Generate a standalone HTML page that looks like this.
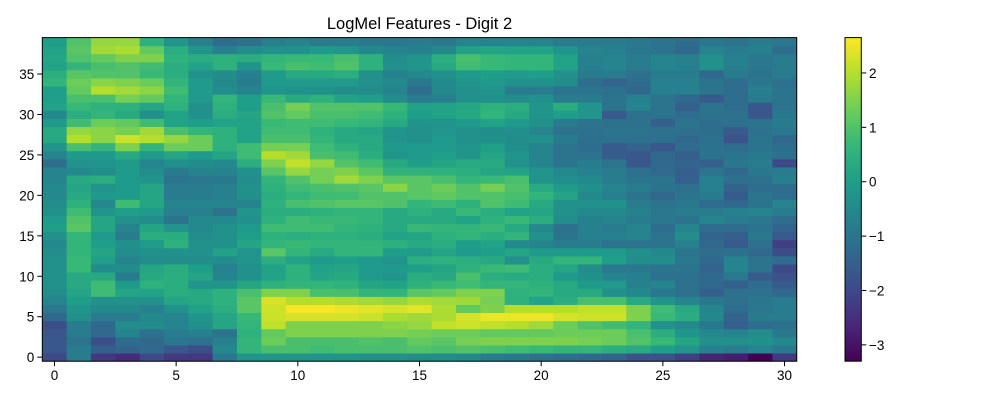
<!DOCTYPE html>
<html><head><meta charset="utf-8"><style>
body{margin:0;background:#fff;}
svg{display:block;font-family:"Liberation Sans","DejaVu Sans",sans-serif;}
</style></head><body>
<svg id="chart" width="1000" height="400" viewBox="0 0 1000 400" xmlns="http://www.w3.org/2000/svg">
<rect width="1000" height="400" fill="#fff"/>
<text x="419.5" y="29" text-anchor="middle" font-size="16.5" fill="#000">LogMel Features - Digit 2</text>
<g id="cells"></g>
<rect x="42.3" y="37.6" width="754.4" height="323.6" fill="none" stroke="#000" stroke-width="1"/>
<g id="xaxis"></g>
<g id="yaxis"></g>
<defs><linearGradient id="cbgrad" x1="0" y1="1" x2="0" y2="0"></linearGradient></defs>
<rect x="845" y="37.6" width="16.3" height="323.6" fill="url(#cbgrad)" stroke="#000" stroke-width="1"/>
<g id="cbaxis"></g>
</svg>
<script>
const xTicks = [0,5,10,15,20,25,30];
const yTicks = [0,5,10,15,20,25,30,35];
const cbTicks = [-3,-2,-1,0,1,2];
const vmin = -3.3, vmax = 2.65;
// rows 0 (bottom) .. 39 (top), 31 frames each
const z = [
[-2.0,-0.8,-2.3,-2.6,-2.0,-2.3,-2.3,-0.9,-0.2,-0.2,-0.2,-0.2,-0.2,-0.3,-0.3,-0.4,-0.4,-0.5,-0.8,-0.9,-1.1,-1.2,-1.3,-1.4,-1.8,-1.8,-2.2,-2.7,-2.8,-3.3,-2.3],
[-1.7,-0.8,-1.5,-1.4,-1.3,-1.7,-1.9,-0.5,0.6,0.9,0.9,0.8,0.9,0.9,0.9,1.0,0.9,1.0,0.9,0.8,0.7,0.6,0.6,0.4,0.3,0.0,-0.2,-0.7,-0.8,-0.6,-0.9],
[-1.7,-1.0,-1.9,-1.2,-1.3,-0.9,-1.1,-0.7,0.6,1.3,0.9,0.9,0.9,1.0,0.9,1.2,1.1,1.4,1.5,1.5,1.5,1.5,1.4,1.3,1.0,0.7,0.2,-0.3,-0.3,-0.3,-0.5],
[-1.7,-0.8,-1.3,-0.6,-1.1,-0.8,-0.7,-1.0,0.5,1.2,1.5,1.5,1.5,1.5,1.5,1.4,1.3,1.3,1.2,1.2,1.2,1.3,1.3,1.3,0.9,0.4,-0.2,-0.5,-0.6,-0.4,-0.9],
[-1.9,-0.8,-1.3,-0.4,-0.4,-0.6,-0.3,0.2,0.6,2.1,1.5,1.5,1.5,1.5,1.6,1.7,2.1,2.2,2.1,2.0,1.8,1.3,1.0,0.8,0.6,-0.3,-0.5,-0.9,-1.5,-1.2,-1.1],
[-1.3,-0.3,-0.8,-0.8,-0.5,-0.6,-0.2,0.2,0.7,2.2,2.3,2.3,2.3,2.2,1.9,1.8,1.9,2.3,2.5,2.5,2.5,2.3,2.2,2.2,1.5,0.7,0.4,-0.5,-1.4,-0.8,-0.8],
[-0.9,-0.2,-0.5,-0.5,-0.7,-0.3,0.1,0.4,1.1,2.2,2.6,2.6,2.5,2.4,2.3,2.4,1.9,1.2,1.5,2.0,2.0,2.0,2.1,2.1,1.5,0.8,0.3,-0.6,-1.2,-0.9,-0.8],
[-0.6,0.0,-0.3,-0.3,-0.3,0.2,0.3,0.5,1.1,2.3,2.0,2.0,1.9,1.8,1.7,1.9,1.8,1.8,1.4,0.5,0.1,0.4,0.9,0.9,0.3,-0.2,-0.6,-0.9,-1.1,-0.9,-0.8],
[-0.4,0.2,0.8,0.2,0.1,0.4,0.3,0.5,0.9,1.5,1.5,0.9,0.9,0.6,0.6,1.1,1.2,1.5,1.5,0.5,0.6,0.3,0.3,-0.3,-0.5,-0.9,-1.1,-1.5,-1.1,-1.1,-1.3],
[-0.3,0.3,0.8,-0.1,0.5,0.4,-0.2,-0.2,0.2,0.5,0.6,0.6,0.5,0.2,0.1,0.5,0.7,0.8,0.6,0.6,0.5,0.3,-0.1,-0.1,-0.7,-0.6,-1.1,-1.3,-1.5,-1.2,-1.6],
[-0.3,0.3,0.3,-0.8,0.3,0.4,0.2,-0.6,-0.3,0.1,0.5,0.2,0.3,-0.1,-0.2,0.4,0.3,0.9,0.4,0.3,0.4,-0.1,-0.3,-0.6,-0.7,-1.1,-1.1,-1.3,-0.9,-1.6,-1.8],
[-0.3,0.7,-0.4,-0.4,0.2,0.4,0.0,-0.7,-0.3,0.1,0.5,0.1,0.2,-0.1,-0.1,0.0,0.2,0.5,0.7,0.8,0.4,0.2,-0.4,-0.9,-0.9,-1.0,-1.0,-1.4,-0.6,-1.0,-2.0],
[-0.3,0.7,0.0,-0.6,-0.4,-0.4,-0.4,-0.4,-0.2,0.4,0.1,-0.1,0.0,-0.1,-0.2,0.4,0.5,0.4,0.3,-0.3,0.3,0.6,0.6,0.0,-0.4,-0.4,-0.9,-1.3,-0.6,-1.0,-1.2],
[-0.4,0.6,0.2,-0.4,-0.3,-0.3,-0.3,0.1,-0.2,1.1,0.6,0.3,0.6,0.6,0.0,-0.1,0.2,-0.1,0.0,0.2,-0.1,-0.1,-0.1,-0.1,-0.3,-0.5,-1.0,-1.2,-1.1,-1.3,-1.9],
[-0.5,0.6,0.0,-0.3,-0.1,0.5,-0.3,-0.3,0.2,0.6,0.7,0.6,0.6,0.6,0.5,0.3,0.4,0.0,0.1,-0.5,-0.6,-0.8,-0.8,-1.0,-1.0,-1.0,-0.7,-1.3,-1.6,-1.1,-2.2],
[-0.3,0.6,-0.1,-0.8,0.4,0.4,-0.4,-0.3,0.0,0.5,0.4,0.5,0.5,0.4,0.1,0.2,0.5,0.6,0.4,0.6,-0.3,-1.0,-0.7,-0.7,-0.6,-1.0,-0.4,-1.4,-1.5,-0.9,-1.6],
[0.0,1.1,0.2,-0.6,0.2,-0.2,-0.5,-0.3,-0.1,0.8,0.8,0.8,0.6,0.5,0.3,0.7,0.6,0.6,0.7,0.3,-0.5,-1.1,-0.7,-0.8,-0.6,-1.2,-0.6,-1.2,-1.2,-1.0,-1.4],
[-0.1,1.0,0.2,-0.3,-0.4,-1.0,-0.5,-0.5,-0.3,0.5,0.8,0.7,0.7,0.6,0.3,0.3,0.3,0.1,0.5,0.7,0.4,-0.4,-0.7,-0.6,-0.8,-0.9,-1.0,-0.6,-0.8,-0.9,-1.2],
[-0.3,0.8,-0.2,0.0,-0.1,-0.7,-0.7,-1.0,-0.2,0.4,0.4,0.5,0.6,0.6,0.3,0.5,0.3,0.7,0.4,0.1,0.2,-0.3,-0.5,-0.5,-0.7,-0.9,-0.8,-0.8,-0.7,-0.6,-0.8],
[-0.4,0.5,-0.5,0.8,0.2,-0.6,-0.6,-0.6,-0.6,0.5,0.9,1.0,1.1,1.1,1.0,0.6,0.8,0.5,1.0,0.8,0.3,-0.3,-0.3,-0.3,-0.8,-1.0,-0.9,-1.2,-1.3,-1.0,-0.6],
[-0.5,0.3,-0.1,-0.1,0.2,-0.8,-0.8,-0.7,-0.3,0.4,0.6,0.8,0.8,1.0,1.0,1.1,1.2,1.0,1.0,0.9,0.6,0.2,-0.5,-0.7,-1.0,-1.3,-1.0,-0.8,-1.6,-1.0,-1.2],
[-0.5,0.2,-0.2,-0.1,0.2,-0.8,-0.8,-0.7,-0.3,0.5,0.8,0.9,1.0,1.1,1.6,1.1,1.3,1.0,1.4,1.0,0.3,-0.1,-0.3,-0.6,-0.8,-1.0,-1.1,-0.7,-1.4,-1.2,-1.2],
[-0.6,0.3,0.4,-0.1,-0.2,-1.0,-0.9,-0.9,-0.4,0.6,1.0,1.4,1.8,1.5,1.1,1.1,0.9,0.6,0.7,0.9,-0.2,-0.4,-0.5,-0.8,-1.0,-1.0,-1.5,-0.7,-1.1,-1.1,-0.7],
[-0.6,-0.5,-0.4,-0.1,-0.4,-0.8,-0.6,-0.6,-0.3,1.1,1.7,1.4,1.5,1.1,0.5,0.5,0.5,0.4,0.2,0.1,-0.2,-0.5,-0.7,-0.8,-1.1,-1.3,-1.5,-1.0,-1.3,-0.9,-0.8],
[-1.2,-0.2,-0.2,-0.1,-0.6,-0.3,-0.4,-0.5,0.4,1.5,2.1,1.7,1.0,0.8,0.3,0.0,0.2,0.3,0.3,-0.3,-0.6,-1.0,-0.8,-1.0,-1.7,-1.3,-1.4,-1.5,-0.9,-0.8,-2.0],
[-0.6,-0.1,-0.1,0.3,-0.1,0.2,-0.1,0.2,0.8,2.0,1.8,0.9,0.8,0.4,-0.2,-0.1,0.0,-0.2,0.2,-0.2,-0.6,-1.0,-1.1,-1.6,-1.7,-1.3,-1.5,-1.0,-1.0,-0.9,-1.1],
[-0.2,0.9,0.6,1.5,0.6,1.3,1.3,0.5,0.8,1.4,1.4,0.8,0.5,0.3,-0.1,-0.1,-0.1,-0.2,0.0,-0.4,-0.6,-1.0,-1.2,-1.6,-1.4,-1.7,-1.2,-1.1,-1.2,-1.0,-1.2],
[0.3,2.0,1.6,2.2,2.0,1.7,1.3,0.5,0.1,0.9,0.9,0.6,0.3,0.3,-0.2,-0.3,-0.1,-0.3,-0.3,-0.4,-0.3,-0.8,-1.1,-1.1,-1.1,-1.1,-1.3,-1.1,-1.8,-1.0,-1.3],
[0.3,1.7,1.6,1.4,1.8,0.9,0.6,0.5,0.1,0.8,0.8,0.5,0.3,0.2,-0.2,-0.3,-0.2,-0.3,-0.4,-0.3,-0.6,-1.0,-1.1,-1.0,-1.0,-1.1,-1.1,-1.2,-1.6,-1.1,-0.9],
[-0.1,0.8,1.3,1.2,0.8,0.1,0.0,0.1,0.1,0.7,0.8,0.8,0.7,0.6,0.3,-0.2,-0.2,-0.1,0.1,-0.1,-0.3,-0.8,-1.0,-1.1,-1.1,-1.5,-1.0,-1.2,-1.1,-1.0,-0.8],
[-0.5,0.4,0.6,0.3,-0.3,0.1,-0.3,0.4,0.2,1.0,1.2,0.9,0.9,0.8,0.5,0.0,0.1,0.3,0.6,0.3,-0.2,0.0,-0.2,-1.6,-1.1,-1.0,-1.2,-1.0,-1.1,-1.7,-0.9],
[0.1,0.7,0.5,0.5,0.2,0.5,-0.3,0.5,0.0,0.9,1.4,1.0,1.0,1.0,0.7,0.1,0.1,0.2,0.5,0.4,-0.2,0.4,-0.2,-1.0,-0.6,-1.0,-1.5,-1.0,-1.2,-1.7,-1.0],
[0.0,0.9,0.9,1.4,1.2,0.6,-0.1,0.6,0.0,0.7,0.3,0.5,0.1,0.0,-0.4,-0.8,-0.7,-0.3,-0.3,-0.4,-0.3,-0.8,-0.8,-1.0,-0.7,-1.0,-1.3,-1.6,-1.2,-0.8,-1.0],
[0.0,1.2,2.0,1.8,1.6,0.8,-0.1,-0.4,-0.6,-0.2,-0.3,-0.3,-0.4,-0.4,-0.6,-1.2,-0.5,-0.3,-0.2,-0.8,-0.8,-1.0,-1.0,-1.1,-1.3,-0.7,-0.7,-1.0,-1.2,-0.7,-1.0],
[0.6,1.3,1.6,1.5,1.3,0.6,-0.1,-0.5,-0.8,-0.1,-0.1,-0.1,-0.1,-0.3,-0.5,-0.9,-0.5,-0.2,-0.1,-0.3,-0.3,-0.4,-1.2,-1.4,-1.2,-0.7,-0.7,-1.0,-1.2,-0.9,-1.1],
[0.4,1.1,1.0,1.0,0.7,0.4,-0.3,-0.4,-0.7,-0.1,0.3,0.3,0.4,-0.3,-0.7,-0.5,-0.3,-0.1,0.0,-0.1,0.0,-0.3,-0.8,-0.8,-1.1,-0.8,-0.8,-1.3,-0.8,-1.0,-0.8],
[0.1,0.6,0.9,1.0,0.8,0.4,0.1,0.5,-0.2,0.7,0.9,0.8,1.0,0.5,-0.3,-0.2,0.3,0.8,0.7,0.6,0.6,0.1,-0.7,-0.6,-0.8,-0.6,-0.7,-0.3,-0.7,-0.9,-0.8],
[0.2,1.0,1.2,1.5,1.5,0.5,0.4,0.5,0.4,0.6,0.7,0.7,0.9,0.5,-0.4,-0.2,0.4,0.9,0.7,0.6,0.6,0.1,-0.7,-0.6,-0.8,-0.6,-0.7,-0.3,-0.7,-0.9,-0.8],
[0.1,1.1,1.8,1.9,1.2,0.4,-0.2,-0.7,-0.4,-0.3,-0.3,-0.1,-0.2,-0.5,-0.6,-0.7,-0.5,0.1,0.2,0.1,0.1,-0.2,-0.6,-0.7,-0.9,-1.0,-1.3,-0.6,-0.8,-0.7,-1.2],
[0.0,1.0,1.7,1.7,0.5,-0.2,-0.7,-1.2,-1.1,-0.7,-0.6,-0.8,-0.8,-0.9,-0.9,-0.8,-0.9,-0.6,-0.6,-0.6,-0.6,-0.8,-0.8,-0.8,-0.9,-1.0,-1.2,-0.9,-1.0,-0.8,-0.9]
];

const NS = "http://www.w3.org/2000/svg";
const L = 42.3, R = 796.7, T = 37.6, B = 361.2;
const nCols = z[0].length, nRows = z.length;
const xs = v => L + (v + 0.5) * (R - L) / nCols;
const ys = v => B - (v + 0.5) * (B - T) / nRows;
const cbY = v => B - (v - vmin) / (vmax - vmin) * (B - T);

const vir = [[68,1,84],[72,40,120],[62,74,137],[49,104,142],[38,130,142],[31,158,137],[53,183,121],[109,205,89],[180,222,44],[253,231,37]];
function color(v){
  let t = Math.max(0, Math.min(1, (v - vmin) / (vmax - vmin))) * (vir.length - 1);
  const i = Math.min(vir.length - 2, Math.floor(t)), f = t - i;
  const c = vir[i].map((a, k) => Math.round(a + (vir[i+1][k] - a) * f));
  return `rgb(${c[0]},${c[1]},${c[2]})`;
}

const cells = document.getElementById('cells');
const cw = (R - L) / nCols, ch = (B - T) / nRows;
for (let r = 0; r < nRows; r++) for (let c = 0; c < nCols; c++) {
  const rect = document.createElementNS(NS, 'rect');
  
  
  rect.setAttribute('x', (xs(c) - cw / 2).toFixed(2));
  rect.setAttribute('y', (ys(r) - ch / 2).toFixed(2));
  rect.setAttribute('width', (cw + 0.4).toFixed(2));
  rect.setAttribute('height', (ch + 0.4).toFixed(2));
  rect.setAttribute('fill', color(z[r][c]));
  cells.appendChild(rect);
}

function mk(parent, tag, attrs, text){
  const e = document.createElementNS(NS, tag);
  for (const k in attrs) e.setAttribute(k, attrs[k]);
  if (text !== undefined) e.textContent = text;
  parent.appendChild(e);
  return e;
}
const fmt = v => v < 0 ? '\u2212' + Math.abs(v) : String(v);

const xa = document.getElementById('xaxis');
xTicks.forEach(v => {
  const tk = mk(xa, 'line', {x1: xs(v), x2: xs(v), y1: B, y2: B + 5, stroke: '#000'});
  
  
  const lb = mk(xa, 'text', {x: xs(v), y: B + 19, 'text-anchor': 'middle', 'font-size': '13.5'}, fmt(v));
  
  
});
const ya = document.getElementById('yaxis');
yTicks.forEach(v => {
  const tk = mk(ya, 'line', {x1: L - 5, x2: L, y1: ys(v), y2: ys(v), stroke: '#000'});
  
  
  const lb = mk(ya, 'text', {x: L - 8, y: ys(v) + 5, 'text-anchor': 'end', 'font-size': '13.5'}, fmt(v));
  
  
});

const grad = document.getElementById('cbgrad');
for (let i = 0; i < vir.length; i++) {
  mk(grad, 'stop', {offset: (i / (vir.length - 1)).toFixed(3), 'stop-color': `rgb(${vir[i].join(',')})`});
}
const cba = document.getElementById('cbaxis');
cbTicks.forEach(v => {
  const tk = mk(cba, 'line', {x1: 861.3, x2: 866.3, y1: cbY(v), y2: cbY(v), stroke: '#000'});
  
  
  const lb = mk(cba, 'text', {x: 869, y: cbY(v) + 5, 'font-size': '13.5'}, fmt(v));
  
  
});
</script>
</body></html>
